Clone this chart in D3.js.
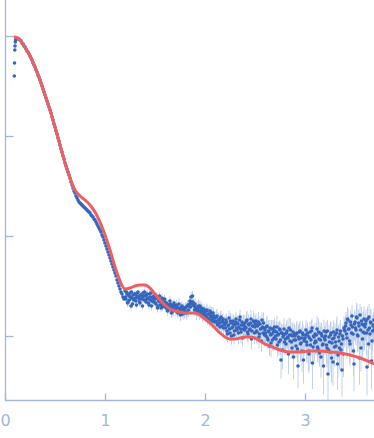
<!DOCTYPE html>
<html>
<head>
<meta charset="utf-8">
<script src="https://cdn.jsdelivr.net/npm/d3@7"></script>
<style>
  body { margin: 0; background: #fff; }
  svg { display: block; font-family: "DejaVu Sans", sans-serif; }
</style>
</head>
<body>
<div id="chart"></div>
<script>
// measured points, smooth part (q in 1/nm, log10 of intensity)
var qLow = [0.093,0.095,0.098,0.100,0.103,0.106,
  0.11,0.12,0.13,0.14,0.15,0.16,0.17,0.18,0.19,0.20,0.21,0.22,0.23,0.24,0.25,0.26,0.27,0.28,0.29,
  0.30,0.31,0.32,0.33,0.34,0.35,0.36,0.37,0.38,0.39,0.40,0.41,0.42,0.43,0.44,0.45,0.46,0.47,0.48,0.49,
  0.50,0.51,0.52,0.53,0.54,0.55,0.56,0.57,0.58,0.59,0.60,0.61,0.62,0.63,0.64,0.65,0.66,0.67,0.68,0.69,
  0.70,0.71,0.72,0.73,0.74,0.75,0.76,0.77,0.78,0.79,0.80,0.81,0.82,0.83,0.84,0.85,0.86,0.87,0.88,0.89,
  0.90,0.91,0.92,0.93,0.94,0.95,0.96,0.97,0.98,0.99,1.00,1.01,1.02,1.03,1.04,1.05,1.06,1.07,1.08,1.09,
  1.10,1.11,1.12,1.13,1.14,1.15,1.16,1.17,1.18,1.19];
var logILow = [-0.40,-0.27,-0.14,-0.10,-0.06,-0.04,
  -0.02,-0.02,-0.03,-0.03,-0.04,-0.05,-0.07,-0.08,-0.10,-0.11,-0.13,-0.15,-0.16,-0.18,-0.20,-0.22,-0.24,-0.27,-0.29,
  -0.31,-0.34,-0.36,-0.39,-0.41,-0.44,-0.47,-0.50,-0.53,-0.56,-0.59,-0.62,-0.65,-0.68,-0.71,-0.74,-0.77,-0.81,-0.84,-0.88,
  -0.91,-0.95,-0.98,-1.02,-1.05,-1.09,-1.13,-1.16,-1.20,-1.23,-1.27,-1.30,-1.33,-1.36,-1.39,-1.42,-1.46,-1.49,-1.52,-1.55,
  -1.57,-1.60,-1.62,-1.64,-1.66,-1.67,-1.68,-1.69,-1.70,-1.71,-1.72,-1.73,-1.74,-1.75,-1.76,-1.77,-1.79,-1.80,-1.81,-1.83,
  -1.84,-1.86,-1.88,-1.90,-1.92,-1.94,-1.96,-1.99,-2.01,-2.04,-2.07,-2.10,-2.13,-2.16,-2.19,-2.22,-2.25,-2.28,-2.31,-2.34,
  -2.37,-2.40,-2.44,-2.47,-2.50,-2.53,-2.56,-2.58,-2.61,-2.63];
var errLow = 3; // percent, same for the whole smooth part

// measured points, noisy part (two interleaved frames)
var qHigh = [1.20,1.21,1.22,1.23,1.24,1.25,1.26,1.27,1.28,1.29,1.30,1.31,1.32,1.33,1.34,1.35,1.36,1.37,1.38,1.39,
  1.40,1.41,1.42,1.43,1.44,1.45,1.46,1.47,1.48,1.49,1.50,1.51,1.52,1.53,1.54,1.55,1.56,1.57,1.58,1.59,
  1.60,1.61,1.62,1.63,1.64,1.65,1.66,1.67,1.68,1.69,1.70,1.71,1.72,1.73,1.74,1.75,1.76,1.77,1.78,1.79,
  1.80,1.81,1.82,1.83,1.84,1.85,1.86,1.87,1.88,1.89,1.90,1.91,1.92,1.93,1.94,1.95,1.96,1.97,1.98,1.99,
  2.00,2.01,2.02,2.03,2.04,2.05,2.06,2.07,2.08,2.09,2.10,2.11,2.12,2.13,2.14,2.15,2.16,2.17,2.18,2.19,
  2.20,2.21,2.22,2.23,2.24,2.25,2.26,2.27,2.28,2.29,2.30,2.31,2.32,2.33,2.34,2.35,2.36,2.37,2.38,2.39,
  2.40,2.41,2.42,2.43,2.44,2.45,2.46,2.47,2.48,2.49,2.50,2.51,2.52,2.53,2.54,2.55,2.56,2.57,2.58,2.59,
  2.60,2.61,2.62,2.63,2.64,2.65,2.66,2.67,2.68,2.69,2.70,2.71,2.72,2.73,2.74,2.75,2.76,2.77,2.78,2.79,
  2.80,2.81,2.82,2.83,2.84,2.85,2.86,2.87,2.88,2.89,2.90,2.91,2.92,2.93,2.94,2.95,2.96,2.97,2.98,2.99,
  3.00,3.01,3.02,3.03,3.04,3.05,3.06,3.07,3.08,3.09,3.10,3.11,3.12,3.13,3.14,3.15,3.16,3.17,3.18,3.19,
  3.20,3.21,3.22,3.23,3.24,3.25,3.26,3.27,3.28,3.29,3.30,3.31,3.32,3.33,3.34,3.35,3.36,3.37,3.38,3.39,
  3.40,3.41,3.42,3.43,3.44,3.45,3.46,3.47,3.48,3.49,3.50,3.51,3.52,3.53,3.54,3.55,3.56,3.57,3.58,3.59,
  3.60,3.61,3.62,3.63,3.64,3.65,3.66,3.67,3.68,3.69];
var logIHigh = [-2.55,-2.63,-2.58,-2.66,-2.60,-2.57,-2.70,-2.62,-2.59,-2.64,
  -2.58,-2.65,-2.60,-2.56,-2.63,-2.67,-2.59,-2.62,-2.57,-2.64,
  -2.60,-2.66,-2.58,-2.63,-2.69,-2.61,-2.57,-2.65,-2.62,-2.60,
  -2.63,-2.68,-2.61,-2.70,-2.64,-2.66,-2.72,-2.62,-2.67,-2.69,
  -2.66,-2.72,-2.68,-2.74,-2.70,-2.65,-2.71,-2.76,-2.69,-2.67,
  -2.70,-2.75,-2.71,-2.77,-2.68,-2.73,-2.74,-2.70,-2.78,-2.72,
  -2.75,-2.71,-2.76,-2.69,-2.70,-2.65,-2.61,-2.68,-2.66,-2.70,
  -2.68,-2.74,-2.71,-2.76,-2.72,-2.70,-2.77,-2.74,-2.79,-2.73,
  -2.76,-2.80,-2.74,-2.83,-2.78,-2.75,-2.81,-2.85,-2.77,-2.80,
  -2.82,-2.86,-2.80,-2.88,-2.84,-2.91,-2.81,-2.86,-2.83,-2.89,
  -2.88,-2.84,-2.95,-2.90,-2.82,-2.97,-2.87,-2.92,-2.85,-2.99,
  -2.89,-2.83,-2.94,-2.88,-2.91,-2.81,-2.96,-2.86,-2.93,-2.90,
  -2.87,-2.92,-2.84,-2.98,-2.89,-2.93,-2.83,-2.95,-2.90,-2.86,
  -2.91,-2.85,-2.96,-2.89,-3.01,-2.88,-2.93,-2.84,-2.97,-2.92,
  -2.94,-3.00,-2.90,-3.04,-2.96,-2.92,-3.07,-2.98,-2.93,-3.02,
  -2.95,-3.03,-2.91,-2.99,-3.06,-2.94,-3.24,-2.97,-3.01,-2.93,
  -2.98,-3.08,-2.95,-3.02,-2.92,-3.05,-2.99,-3.12,-2.96,-3.04,
  -3.00,-3.10,-2.97,-3.30,-3.03,-2.95,-3.07,-3.15,-2.99,-3.05,
  -3.02,-2.94,-3.09,-3.00,-3.18,-2.96,-3.04,-2.92,-3.11,-3.01,
  -2.98,-3.06,-2.93,-3.13,-3.03,-2.97,-3.21,-3.00,-3.08,-2.95,
  -3.04,-2.96,-3.12,-3.38,-3.01,-3.16,-2.97,-3.07,-3.26,-3.02,
  -2.99,-3.10,-2.94,-3.19,-3.05,-2.98,-3.14,-3.34,-3.03,-2.92,
  -2.95,-2.87,-3.02,-2.84,-2.93,-3.08,-2.89,-2.80,-2.98,-3.28,
  -2.86,-2.94,-2.82,-3.00,-2.90,-2.79,-3.12,-2.88,-2.96,-2.83,
  -2.91,-2.85,-3.31,-2.94,-2.81,-2.98,-2.87,-3.05,-2.90,-2.84];
var errHigh = [7,8,6,9,7,8,10,7,6,8, 8,7,9,6,8,10,7,8,9,7, 9,8,10,7,9,11,8,9,7,10,
  10,9,11,8,12,10,9,11,10,8, 11,10,12,9,13,11,10,12,11,9, 12,11,13,10,14,12,11,13,12,10,
  13,12,14,11,15,13,12,14,13,11, 14,13,15,12,16,14,13,15,14,12, 15,14,16,13,17,15,14,16,15,13,
  16,15,18,14,17,16,15,19,16,14, 18,16,20,15,19,17,21,16,18,20, 19,17,22,16,20,18,23,17,19,21,
  20,18,23,17,21,19,24,18,20,22, 21,19,25,18,23,20,26,19,22,24, 22,20,27,19,24,21,28,20,23,26,
  24,21,29,20,26,22,35,21,25,28, 25,22,30,21,27,23,32,22,26,29, 27,24,32,40,28,25,34,38,27,30,
  28,25,34,26,36,27,31,24,35,29, 29,26,35,27,33,28,38,26,32,30, 30,27,36,45,31,38,28,34,42,30,
  31,28,37,40,33,29,39,46,32,30, 32,29,38,30,34,40,31,28,36,47, 33,30,39,31,35,29,42,32,37,34,
  34,31,48,33,36,30,38,41,35,32];

var qHigh2 = [1.205,1.215,1.225,1.235,1.245,1.255,1.265,1.275,1.285,1.295,1.305,1.315,1.325,1.335,1.345,1.355,1.365,1.375,1.385,1.395,
  1.405,1.415,1.425,1.435,1.445,1.455,1.465,1.475,1.485,1.495,1.505,1.515,1.525,1.535,1.545,1.555,1.565,1.575,1.585,1.595,
  1.605,1.615,1.625,1.635,1.645,1.655,1.665,1.675,1.685,1.695,1.705,1.715,1.725,1.735,1.745,1.755,1.765,1.775,1.785,1.795,
  1.805,1.815,1.825,1.835,1.845,1.855,1.865,1.875,1.885,1.895,1.905,1.915,1.925,1.935,1.945,1.955,1.965,1.975,1.985,1.995,
  2.005,2.015,2.025,2.035,2.045,2.055,2.065,2.075,2.085,2.095,2.105,2.115,2.125,2.135,2.145,2.155,2.165,2.175,2.185,2.195,
  2.205,2.215,2.225,2.235,2.245,2.255,2.265,2.275,2.285,2.295,2.305,2.315,2.325,2.335,2.345,2.355,2.365,2.375,2.385,2.395,
  2.405,2.415,2.425,2.435,2.445,2.455,2.465,2.475,2.485,2.495,2.505,2.515,2.525,2.535,2.545,2.555,2.565,2.575,2.585,2.595,
  2.605,2.615,2.625,2.635,2.645,2.655,2.665,2.675,2.685,2.695,2.705,2.715,2.725,2.735,2.745,2.755,2.765,2.775,2.785,2.795,
  2.805,2.815,2.825,2.835,2.845,2.855,2.865,2.875,2.885,2.895,2.905,2.915,2.925,2.935,2.945,2.955,2.965,2.975,2.985,2.995,
  3.005,3.015,3.025,3.035,3.045,3.055,3.065,3.075,3.085,3.095,3.105,3.115,3.125,3.135,3.145,3.155,3.165,3.175,3.185,3.195,
  3.205,3.215,3.225,3.235,3.245,3.255,3.265,3.275,3.285,3.295,3.305,3.315,3.325,3.335,3.345,3.355,3.365,3.375,3.385,3.395,
  3.405,3.415,3.425,3.435,3.445,3.455,3.465,3.475,3.485,3.495,3.505,3.515,3.525,3.535,3.545,3.555,3.565,3.575,3.585,3.595,
  3.605,3.615,3.625,3.635,3.645,3.655,3.665,3.675,3.685,3.695];
var logIHigh2 = [-2.61,-2.56,-2.67,-2.59,-2.64,-2.61,-2.56,-2.68,-2.63,-2.58,
  -2.62,-2.69,-2.57,-2.61,-2.66,-2.59,-2.63,-2.70,-2.60,-2.56,
  -2.64,-2.59,-2.62,-2.67,-2.58,-2.64,-2.70,-2.61,-2.66,-2.63,
  -2.67,-2.62,-2.72,-2.65,-2.60,-2.69,-2.64,-2.71,-2.66,-2.63,
  -2.70,-2.67,-2.75,-2.69,-2.73,-2.68,-2.77,-2.71,-2.74,-2.70,
  -2.73,-2.69,-2.76,-2.72,-2.75,-2.79,-2.71,-2.76,-2.73,-2.77,
  -2.72,-2.77,-2.70,-2.74,-2.68,-2.71,-2.66,-2.60,-2.69,-2.74,
  -2.72,-2.77,-2.74,-2.70,-2.78,-2.75,-2.72,-2.80,-2.76,-2.78,
  -2.79,-2.75,-2.82,-2.78,-2.84,-2.80,-2.77,-2.83,-2.80,-2.86,
  -2.85,-2.81,-2.89,-2.84,-2.87,-2.82,-2.90,-2.85,-2.92,-2.87,
  -2.92,-2.86,-2.98,-2.89,-2.93,-2.85,-3.00,-2.91,-2.88,-2.95,
  -2.86,-2.92,-2.87,-2.97,-2.84,-2.93,-2.89,-3.02,-2.88,-2.94,
  -2.91,-2.85,-2.96,-2.88,-2.94,-2.87,-3.03,-2.90,-2.85,-2.97,
  -2.88,-2.95,-2.90,-2.86,-2.98,-2.93,-3.05,-2.91,-2.87,-2.99,
  -2.97,-2.91,-3.02,-2.95,-3.10,-2.99,-2.93,-3.04,-2.96,-2.91,
  -3.00,-2.96,-3.09,-2.98,-2.93,-3.04,-2.97,-3.14,-2.99,-3.06,
  -3.03,-2.97,-3.01,-3.18,-2.99,-2.94,-3.06,-3.00,-3.21,-2.98,
  -3.04,-2.98,-3.13,-3.01,-2.96,-3.08,-3.02,-2.97,-3.24,-3.03,
  -2.99,-3.06,-2.97,-3.15,-3.02,-3.09,-2.95,-3.27,-3.00,-3.07,
  -3.05,-2.99,-3.11,-2.96,-3.17,-3.04,-2.98,-3.09,-3.30,-3.02,
  -3.00,-3.09,-2.95,-3.14,-3.06,-2.99,-3.22,-3.03,-2.96,-3.11,
  -3.06,-2.97,-3.28,-3.01,-3.12,-2.95,-3.08,-3.00,-3.18,-2.94,
  -2.90,-2.98,-2.83,-2.93,-3.05,-2.86,-2.97,-2.91,-3.15,-2.88,
  -2.92,-2.81,-2.99,-2.87,-3.22,-2.94,-2.85,-3.03,-2.89,-2.97,
  -2.88,-2.97,-2.83,-3.08,-2.92,-2.86,-3.25,-2.95,-2.89,-2.93];
var errHigh2 = [8,6,9,7,8,7,6,9,8,7, 9,8,7,10,8,9,7,8,10,9, 8,10,9,8,11,9,10,8,9,11,
  9,11,10,12,9,11,10,9,12,10, 10,12,11,13,10,12,11,10,13,11, 11,13,12,14,11,13,12,11,14,12,
  12,14,13,15,12,14,13,12,15,13, 13,15,14,16,13,15,14,13,16,14, 14,16,15,17,14,16,15,14,17,15,
  15,17,16,19,15,18,16,15,19,17, 17,19,18,21,16,20,18,17,22,19, 18,21,19,23,17,21,19,18,24,20,
  19,22,20,25,18,23,21,19,26,22, 20,24,21,27,19,25,22,20,28,23, 21,26,22,29,20,27,23,21,30,24,
  22,28,23,31,21,29,24,36,30,25, 23,29,24,37,22,30,25,31,40,26, 24,31,26,33,25,34,27,32,42,28,
  25,33,27,36,26,35,28,45,29,34, 26,34,28,37,27,36,29,35,48,30, 27,35,29,39,28,37,43,33,30,36,
  28,37,45,32,39,29,36,31,41,30, 29,38,31,36,40,30,37,33,44,32, 30,39,32,37,46,31,38,34,40,33,
  31,40,33,42,35,32,48,36,34,38];

// model fit
var fitQ = [0.10,0.15,0.20,0.25,0.30,0.35,0.40,0.45,0.50,0.55,0.60,0.65,0.70,0.75,0.80,0.85,0.90,0.95,
  1.00,1.05,1.10,1.15,1.20,1.25,1.30,1.35,1.40,1.45,1.50,1.55,1.60,1.65,1.70,1.75,1.80,1.85,1.90,1.95,
  2.00,2.05,2.10,2.15,2.20,2.25,2.30,2.35,2.40,2.45,2.50,2.55,2.60,2.65,2.75,2.85,2.95,3.05,3.15,3.25,
  3.35,3.45,3.55,3.65,3.70];
var fitLogI = [-0.01,-0.04,-0.11,-0.20,-0.31,-0.44,-0.59,-0.74,-0.91,-1.09,-1.27,-1.42,-1.54,-1.60,-1.64,-1.69,-1.76,-1.86,
  -1.99,-2.14,-2.31,-2.45,-2.53,-2.52,-2.50,-2.49,-2.49,-2.52,-2.58,-2.64,-2.69,-2.73,-2.75,-2.76,-2.77,-2.77,-2.77,-2.79,
  -2.83,-2.87,-2.92,-2.97,-3.01,-3.03,-3.03,-3.02,-3.01,-3.01,-3.02,-3.05,-3.08,-3.10,-3.14,-3.16,-3.16,-3.15,-3.15,-3.16,
  -3.17,-3.19,-3.22,-3.26,-3.28];

var xTicks = [0, 1, 2, 3];
var yTicks = [1, 0.1, 0.01, 0.001];

var width = 374, height = 438;
var margin = {left: 5, bottom: 38};

var svg = d3.select("#chart").append("svg")
    .attr("width", width)
    .attr("height", height);

var x = d3.scaleLinear().domain([0, 3.69]).range([margin.left, width]);
var y = d3.scaleLog().domain([Math.pow(10, -3.64), Math.pow(10, 0.36)]).range([height - margin.bottom, 0]);

var points = [];
qLow.forEach(function(q, i) {
    points.push({q: q, I: Math.pow(10, logILow[i]), err: errLow / 100});
});
qHigh.forEach(function(q, i) {
    points.push({q: q, I: Math.pow(10, logIHigh[i]), err: errHigh[i] / 100});
});
qHigh2.forEach(function(q, i) {
    points.push({q: q, I: Math.pow(10, logIHigh2[i]), err: errHigh2[i] / 100});
});
var fit = fitQ.map(function(q, i) { return {q: q, I: Math.pow(10, fitLogI[i])}; });

var plot = svg.append("g");

// error bars
plot.selectAll(".err")
    .data(points)
    .enter().append("line")
    .attr("class", "err")
    .attr("x1", function(d) { return x(d.q); })
    .attr("x2", function(d) { return x(d.q); })
    .attr("y1", function(d) { return y(d.I * (1 + d.err)); })
    .attr("y2", function(d) { return y(d.I * (1 - d.err)); })
    .style("stroke", "#c3d1ec")
    .style("stroke-width", 1);

plot.selectAll(".dot")
    .data(points)
    .enter().append("circle")
    .attr("class", "dot")
    .attr("r", 1.8)
    .attr("cx", function(d) { return x(d.q); })
    .attr("cy", function(d) { return y(d.I); })
    .style("fill", "#3565bd");

var line = d3.line()
    .curve(d3.curveMonotoneX)
    .x(function(d) { return x(d.q); })
    .y(function(d) { return y(d.I); });

plot.append("path")
    .datum(fit)
    .attr("d", line)
    .style("fill", "none")
    .style("stroke", "#ef5f5f")
    .style("stroke-width", 3)
    .style("stroke-linecap", "round");

// axes
var axisColor = "#a2b6df";

var xAxis = svg.append("g")
    .attr("transform", "translate(0," + (height - margin.bottom + 0.5) + ")")
    .call(d3.axisBottom(x).tickValues(xTicks).tickFormat(d3.format("d")).tickSize(-7).tickPadding(14));
xAxis.select(".domain").attr("d", "M" + margin.left + ",0H" + width);

var yAxis = svg.append("g")
    .attr("transform", "translate(" + (margin.left + 0.5) + ",0)")
    .call(d3.axisLeft(y).tickValues(yTicks).tickFormat("").tickSize(-8));
yAxis.select(".domain").attr("d", "M0,0V" + (height - margin.bottom));

svg.selectAll(".domain, .tick line").style("stroke", axisColor).style("stroke-width", 1.3);
svg.selectAll(".tick text")
    .style("fill", axisColor)
    .style("font-size", "16px")
    .style("font-family", "DejaVu Sans, sans-serif");
</script>
</body>
</html>
